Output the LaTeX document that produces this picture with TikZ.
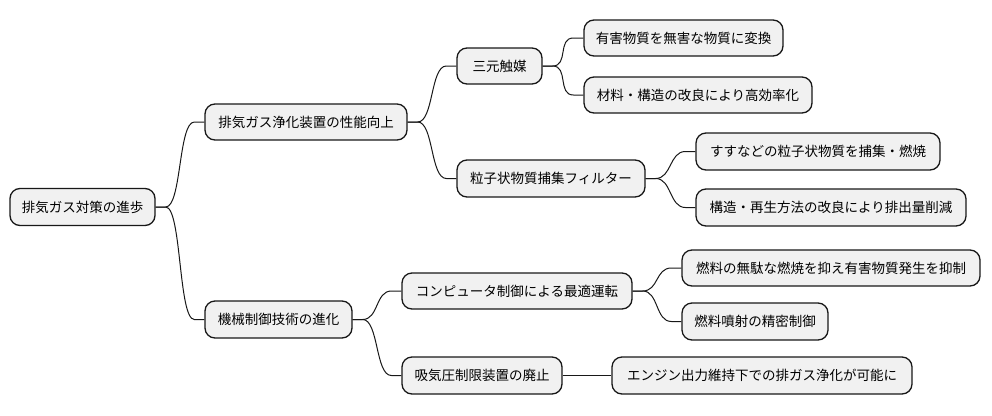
\documentclass[tikz,border=0pt]{standalone}
\usepackage{fontspec}
\setmainfont{Noto Sans CJK JP}
\usetikzlibrary{calc}
\definecolor{boxfill}{HTML}{F1F1F1}
\definecolor{boxline}{HTML}{181818}
\tikzset{
  mmbox/.style={draw=boxline, fill=boxfill, line width=1.3pt, rounded corners=10pt,
    inner sep=0pt, font=\fontsize{13.5}{16}\selectfont, text=black},
  mmline/.style={draw=boxline, line width=1pt}
}
\newcommand{\mmconn}[2]{\draw[mmline] (#1.east) -- ++(10,0) .. controls +(16,0) and +(-16,0) .. ($(#2.west)+(-10,0)$) -- (#2.west);}
\begin{document}
\begin{tikzpicture}[x=1pt,y=-1pt]
\useasboundingbox (0,0) rectangle (992,415);
\node[mmbox, minimum width=145pt, minimum height=37pt] (root) at (82.5,207) {排気ガス対策の進歩};
\node[mmbox, minimum width=202pt, minimum height=36pt] (a) at (306,122) {排気ガス浄化装置の性能向上};
\node[mmbox, minimum width=85pt, minimum height=36pt] (a1) at (499.5,66) {三元触媒};
\node[mmbox, minimum width=199pt, minimum height=36pt] (a11) at (683.5,38) {有害物質を無害な物質に変換};
\node[mmbox, minimum width=228pt, minimum height=36pt] (a12) at (698,95) {材料・構造の改良により高効率化};
\node[mmbox, minimum width=188pt, minimum height=37pt] (a2) at (551,178.5) {粒子状物質捕集フィルター};
\node[mmbox, minimum width=244pt, minimum height=37pt] (a21) at (818,151.5) {すすなどの粒子状物質を捕集・燃焼};
\node[mmbox, minimum width=270pt, minimum height=37pt] (a22) at (831,207.5) {構造・再生方法の改良により排出量削減};
\node[mmbox, minimum width=147pt, minimum height=37pt] (b) at (278.5,319.5) {機械制御技術の進化};
\node[mmbox, minimum width=230pt, minimum height=36pt] (b1) at (517,291) {コンピュータ制御による最適運転};
\node[mmbox, minimum width=298pt, minimum height=36pt] (b11) at (831,268) {燃料の無駄な燃焼を抑え有害物質発生を抑制};
\node[mmbox, minimum width=146pt, minimum height=37pt] (b12) at (755,321.5) {燃料噴射の精密制御};
\node[mmbox, minimum width=160pt, minimum height=37pt] (b2) at (482,375.5) {吸気圧制限装置の廃止};
\node[mmbox, minimum width=300pt, minimum height=37pt] (b21) at (762,375.5) {エンジン出力維持下での排ガス浄化が可能に};
\mmconn{root}{a}
\mmconn{root}{b}
\mmconn{a}{a1}
\mmconn{a}{a2}
\mmconn{a1}{a11}
\mmconn{a1}{a12}
\mmconn{a2}{a21}
\mmconn{a2}{a22}
\mmconn{b}{b1}
\mmconn{b}{b2}
\mmconn{b1}{b11}
\mmconn{b1}{b12}
\draw[mmline] (b2.east) -- (b21.west);
\end{tikzpicture}
\end{document}
